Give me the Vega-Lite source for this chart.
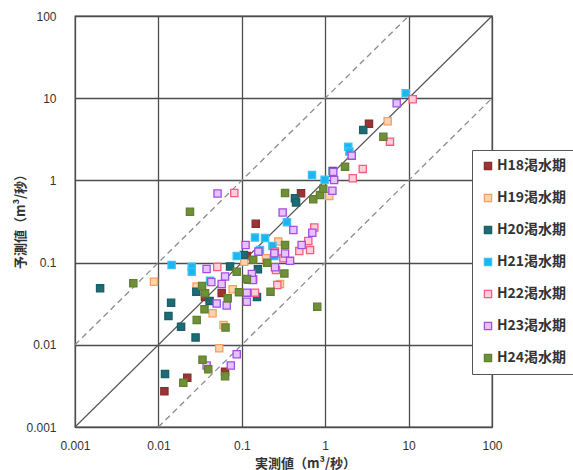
{
  "$schema": "https://vega.github.io/schema/vega-lite/v6.json",
  "width": 417,
  "height": 411,
  "autosize": "none",
  "padding": {"left": 75, "top": 16, "right": 81, "bottom": 43},
  "background": "white",
  "config": {"view": {"stroke": "#4d4d4d", "strokeWidth": 1.3}},
  "datasets": {
    "diag": [{"x": 0.001, "y": 0.001}, {"x": 100, "y": 100}],
    "bands": [
      {"k": "up", "x": 0.001, "y": 0.01}, {"k": "up", "x": 10, "y": 100},
      {"k": "lo", "x": 0.01, "y": 0.001}, {"k": "lo", "x": 100, "y": 10}
    ],
    "pts": [
      {"s": "H18渇水期", "x": 3.35, "y": 4.90},
      {"s": "H18渇水期", "x": 0.147, "y": 0.297},
      {"s": "H18渇水期", "x": 0.513, "y": 0.697},
      {"s": "H18渇水期", "x": 0.115, "y": 0.120},
      {"s": "H18渇水期", "x": 0.120, "y": 0.0623},
      {"s": "H18渇水期", "x": 0.0574, "y": 0.0427},
      {"s": "H18渇水期", "x": 0.0362, "y": 0.0381},
      {"s": "H18渇水期", "x": 0.0630, "y": 0.00471},
      {"s": "H18渇水期", "x": 0.0222, "y": 0.00398},
      {"s": "H18渇水期", "x": 0.0118, "y": 0.00272},
      {"s": "H19渇水期", "x": 5.61, "y": 5.24},
      {"s": "H19渇水期", "x": 1.12, "y": 0.646},
      {"s": "H19渇水期", "x": 0.274, "y": 0.180},
      {"s": "H19渇水期", "x": 0.287, "y": 0.0549},
      {"s": "H19渇水期", "x": 0.0778, "y": 0.0473},
      {"s": "H19渇水期", "x": 0.0287, "y": 0.0512},
      {"s": "H19渇水期", "x": 0.0446, "y": 0.0242},
      {"s": "H19渇水期", "x": 0.0604, "y": 0.0174},
      {"s": "H19渇水期", "x": 0.0536, "y": 0.00906},
      {"s": "H19渇水期", "x": 0.00885, "y": 0.0586},
      {"s": "H19渇水期", "x": 0.195, "y": 0.113},
      {"s": "H19渇水期", "x": 0.107, "y": 0.1026},
      {"s": "H20渇水期", "x": 2.86, "y": 4.10},
      {"s": "H20渇水期", "x": 0.434, "y": 0.606},
      {"s": "H20渇水期", "x": 0.447, "y": 0.538},
      {"s": "H20渇水期", "x": 1.23, "y": 1.30},
      {"s": "H20渇水期", "x": 0.106, "y": 0.124},
      {"s": "H20渇水期", "x": 0.0723, "y": 0.0897},
      {"s": "H20渇水期", "x": 0.156, "y": 0.0828},
      {"s": "H20渇水期", "x": 0.0285, "y": 0.0443},
      {"s": "H20渇水期", "x": 0.0411, "y": 0.0341},
      {"s": "H20渇水期", "x": 0.152, "y": 0.0381},
      {"s": "H20渇水期", "x": 0.0142, "y": 0.0325},
      {"s": "H20渇水期", "x": 0.0132, "y": 0.0224},
      {"s": "H20渇水期", "x": 0.0187, "y": 0.0166},
      {"s": "H20渇水期", "x": 0.0279, "y": 0.0123},
      {"s": "H20渇水期", "x": 0.0120, "y": 0.00442},
      {"s": "H20渇水期", "x": 0.00200, "y": 0.0486},
      {"s": "H21渇水期", "x": 9.23, "y": 11.5},
      {"s": "H21渇水期", "x": 1.89, "y": 2.57},
      {"s": "H21渇水期", "x": 1.95, "y": 2.24},
      {"s": "H21渇水期", "x": 0.695, "y": 1.16},
      {"s": "H21渇水期", "x": 0.984, "y": 1.02},
      {"s": "H21渇水期", "x": 0.348, "y": 0.309},
      {"s": "H21渇水期", "x": 0.144, "y": 0.202},
      {"s": "H21渇水期", "x": 0.190, "y": 0.199},
      {"s": "H21渇水期", "x": 0.165, "y": 0.142},
      {"s": "H21渇水期", "x": 0.233, "y": 0.159},
      {"s": "H21渇水期", "x": 0.0869, "y": 0.120},
      {"s": "H21渇水期", "x": 0.246, "y": 0.120},
      {"s": "H21渇水期", "x": 0.0251, "y": 0.0891},
      {"s": "H21渇水期", "x": 0.0251, "y": 0.0775},
      {"s": "H21渇水期", "x": 0.0144, "y": 0.0935},
      {"s": "H21渇水期", "x": 0.0416, "y": 0.0602},
      {"s": "H22渇水期", "x": 11.2, "y": 9.70},
      {"s": "H22渇水期", "x": 5.98, "y": 2.96},
      {"s": "H22渇水期", "x": 2.82, "y": 1.38},
      {"s": "H22渇水期", "x": 2.14, "y": 1.06},
      {"s": "H22渇水期", "x": 0.0813, "y": 0.703},
      {"s": "H22渇水期", "x": 0.740, "y": 0.267},
      {"s": "H22渇水期", "x": 0.627, "y": 0.183},
      {"s": "H22渇水期", "x": 0.658, "y": 0.142},
      {"s": "H22渇水期", "x": 0.489, "y": 0.138},
      {"s": "H22渇水期", "x": 0.250, "y": 0.136},
      {"s": "H22渇水期", "x": 0.315, "y": 0.113},
      {"s": "H22渇水期", "x": 0.257, "y": 0.0813},
      {"s": "H22渇水期", "x": 0.267, "y": 0.0533},
      {"s": "H22渇水期", "x": 0.144, "y": 0.0431},
      {"s": "H22渇水期", "x": 0.137, "y": 0.0627},
      {"s": "H22渇水期", "x": 0.0508, "y": 0.0884},
      {"s": "H23渇水期", "x": 7.20, "y": 8.67},
      {"s": "H23渇水期", "x": 2.08, "y": 2.00},
      {"s": "H23渇水期", "x": 1.25, "y": 1.27},
      {"s": "H23渇水期", "x": 1.28, "y": 1.01},
      {"s": "H23渇水期", "x": 1.22, "y": 0.749},
      {"s": "H23渇水期", "x": 0.309, "y": 0.407},
      {"s": "H23渇水期", "x": 0.415, "y": 0.249},
      {"s": "H23渇水期", "x": 0.700, "y": 0.231},
      {"s": "H23渇水期", "x": 0.522, "y": 0.164},
      {"s": "H23渇水期", "x": 0.330, "y": 0.129},
      {"s": "H23渇水期", "x": 0.379, "y": 0.105},
      {"s": "H23渇水期", "x": 0.250, "y": 0.0877},
      {"s": "H23渇水期", "x": 0.158, "y": 0.136},
      {"s": "H23渇水期", "x": 0.111, "y": 0.164},
      {"s": "H23渇水期", "x": 0.132, "y": 0.0726},
      {"s": "H23渇水期", "x": 0.135, "y": 0.0614},
      {"s": "H23渇水期", "x": 0.115, "y": 0.0431},
      {"s": "H23渇水期", "x": 0.115, "y": 0.0334},
      {"s": "H23渇水期", "x": 0.0630, "y": 0.0678},
      {"s": "H23渇水期", "x": 0.0574, "y": 0.0549},
      {"s": "H23渇水期", "x": 0.0431, "y": 0.0581},
      {"s": "H23渇水期", "x": 0.0378, "y": 0.0836},
      {"s": "H23渇水期", "x": 0.0500, "y": 0.0318},
      {"s": "H23渇水期", "x": 0.0659, "y": 0.0301},
      {"s": "H23渇水期", "x": 0.0869, "y": 0.00769},
      {"s": "H23渇水期", "x": 0.0379, "y": 0.00560},
      {"s": "H23渇水期", "x": 0.0738, "y": 0.00560},
      {"s": "H23渇水期", "x": 0.0512, "y": 0.693},
      {"s": "H23渇水期", "x": 0.246, "y": 0.130},
      {"s": "H24渇水期", "x": 4.98, "y": 3.40},
      {"s": "H24渇水期", "x": 1.73, "y": 1.47},
      {"s": "H24渇水期", "x": 0.719, "y": 0.590},
      {"s": "H24渇水期", "x": 0.867, "y": 0.664},
      {"s": "H24渇水期", "x": 0.948, "y": 0.791},
      {"s": "H24渇水期", "x": 0.330, "y": 0.703},
      {"s": "H24渇水期", "x": 0.0239, "y": 0.416},
      {"s": "H24渇水期", "x": 0.330, "y": 0.164},
      {"s": "H24渇水期", "x": 0.137, "y": 0.108},
      {"s": "H24渇水期", "x": 0.202, "y": 0.0997},
      {"s": "H24渇水期", "x": 0.0869, "y": 0.0775},
      {"s": "H24渇水期", "x": 0.324, "y": 0.0737},
      {"s": "H24渇水期", "x": 0.221, "y": 0.0443},
      {"s": "H24渇水期", "x": 0.115, "y": 0.0631},
      {"s": "H24渇水期", "x": 0.0925, "y": 0.0437},
      {"s": "H24渇水期", "x": 0.0678, "y": 0.0368},
      {"s": "H24渇水期", "x": 0.0334, "y": 0.0519},
      {"s": "H24渇水期", "x": 0.0362, "y": 0.0423},
      {"s": "H24渇水期", "x": 0.0357, "y": 0.0270},
      {"s": "H24渇水期", "x": 0.0288, "y": 0.0200},
      {"s": "H24渇水期", "x": 0.0638, "y": 0.0162},
      {"s": "H24渇水期", "x": 0.803, "y": 0.0291},
      {"s": "H24渇水期", "x": 0.0338, "y": 0.00659},
      {"s": "H24渇水期", "x": 0.0396, "y": 0.00504},
      {"s": "H24渇水期", "x": 0.0630, "y": 0.00414},
      {"s": "H24渇水期", "x": 0.0199, "y": 0.00346},
      {"s": "H24渇水期", "x": 0.00500, "y": 0.0560}
    ]
  },
  "encoding": {
    "x": {
      "field": "x", "type": "quantitative",
      "scale": {"type": "log", "domain": [0.001, 100], "nice": false},
      "axis": {
        "values": [0.001, 0.01, 0.1, 1, 10, 100], "format": "~g",
        "grid": true, "gridColor": "#4d4d4d", "gridWidth": 1.3, "gridOpacity": 1,
        "domain": false, "ticks": false, "tickSize": 0, "labelPadding": 13,
        "labelFont": "Liberation Sans", "labelFontSize": 12, "labelColor": "#333333",
        "labelFlush": false, "labelOverlap": false,
        "title": "実測値（m³/秒）", "titleFont": "Noto Sans CJK JP", "titleFontSize": 13,
        "titleFontWeight": "bold", "titleColor": "#333333",
        "titleX": 230, "titleY": 36, "titleAlign": "center", "titleBaseline": "middle"
      }
    },
    "y": {
      "field": "y", "type": "quantitative",
      "scale": {"type": "log", "domain": [0.001, 100], "nice": false},
      "axis": {
        "values": [0.001, 0.01, 0.1, 1, 10, 100], "format": "~g",
        "grid": true, "gridColor": "#4d4d4d", "gridWidth": 1.3, "gridOpacity": 1,
        "domain": false, "ticks": false, "tickSize": 0, "labelPadding": 19,
        "labelFont": "Liberation Sans", "labelFontSize": 12, "labelColor": "#333333",
        "labelFlush": false, "labelOverlap": false,
        "title": "予測値（m³/秒）", "titleFont": "Noto Sans CJK JP", "titleFontSize": 13,
        "titleFontWeight": "bold", "titleColor": "#333333",
        "titleX": -55, "titleY": 202, "titleAngle": -90, "titleAlign": "center", "titleBaseline": "middle"
      }
    }
  },
  "layer": [
    {
      "data": {"name": "diag"},
      "mark": {"type": "line", "color": "#555555", "strokeWidth": 1.2},
      "encoding": {}
    },
    {
      "data": {"name": "bands"},
      "mark": {"type": "line", "color": "#8c8c8c", "strokeWidth": 1.3, "strokeDash": [6, 4]},
      "encoding": {"detail": {"field": "k"}}
    },
    {
      "data": {"name": "pts"},
      "mark": {"type": "square", "size": 52, "strokeWidth": 1.3, "opacity": 1, "fillOpacity": 1},
      "encoding": {
        "fill": {
          "field": "s", "type": "nominal",
          "scale": {
            "domain": ["H18渇水期", "H19渇水期", "H20渇水期", "H21渇水期", "H22渇水期", "H23渇水期", "H24渇水期"],
            "range": ["#9b3434", "#fcd3ae", "#1d6b74", "#19b6f0", "#ffd0da", "#e6c2ff", "#6f8f38"]
          },
          "legend": {
            "orient": "none", "legendX": 397, "legendY": 134, "title": null,
            "fillColor": "white", "strokeColor": "#555555", "padding": 9, "rowPadding": 18,
            "symbolType": "square", "symbolSize": 52, "symbolStrokeWidth": 1.3, "labelOffset": 2,
            "labelFont": "Noto Sans CJK JP", "labelFontSize": 14, "labelFontWeight": "bold", "labelColor": "#333333"
          }
        },
        "stroke": {
          "field": "s", "type": "nominal",
          "scale": {
            "domain": ["H18渇水期", "H19渇水期", "H20渇水期", "H21渇水期", "H22渇水期", "H23渇水期", "H24渇水期"],
            "range": ["#8a2c2c", "#f5a060", "#1a5f68", "#3cc3f5", "#f45c80", "#a24fe0", "#62802f"]
          },
          "legend": {
            "orient": "none", "legendX": 397, "legendY": 134, "title": null,
            "fillColor": "white", "strokeColor": "#555555", "padding": 9, "rowPadding": 18,
            "symbolType": "square", "symbolSize": 52, "symbolStrokeWidth": 1.3, "labelOffset": 2,
            "labelFont": "Noto Sans CJK JP", "labelFontSize": 14, "labelFontWeight": "bold", "labelColor": "#333333"
          }
        }
      }
    }
  ]
}
